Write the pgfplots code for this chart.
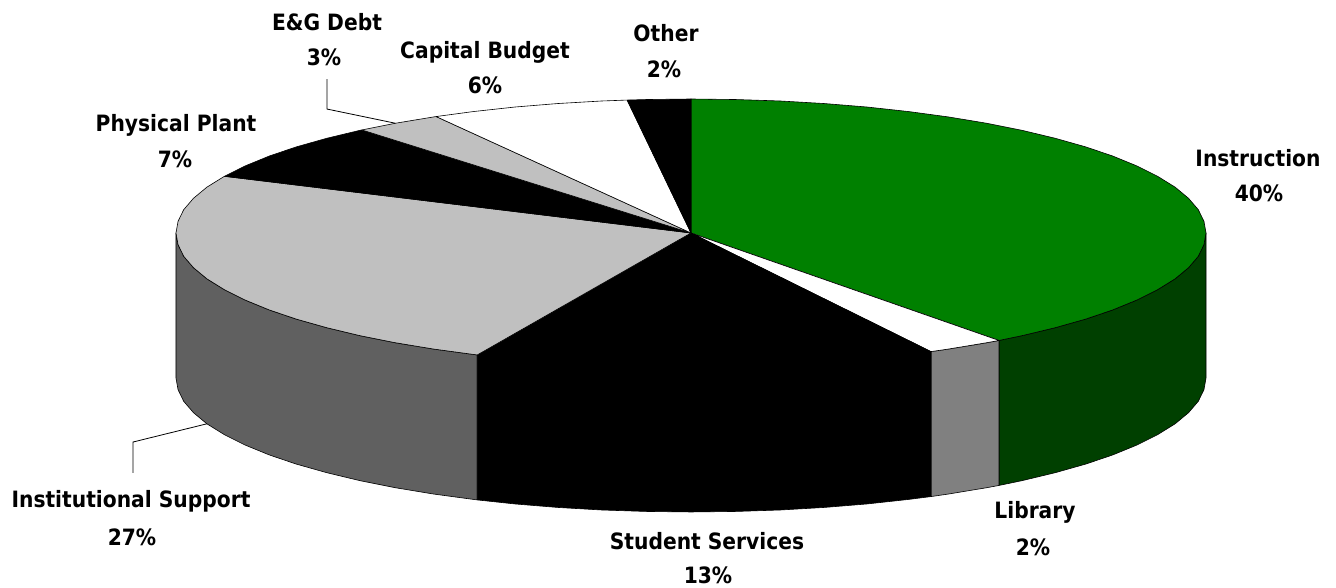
\documentclass[border=0pt]{standalone}
\usepackage{pgfplots}
\pgfplotsset{compat=1.18}
\usepackage{fontspec}
\setmainfont{DejaVu Sans}[FakeStretch=0.9]
\definecolor{instr}{RGB}{0,128,0}
\definecolor{instrside}{RGB}{0,64,0}
\definecolor{lgray}{RGB}{192,192,192}
\definecolor{dgray}{RGB}{96,96,96}
\definecolor{mgray}{RGB}{128,128,128}
\begin{document}
\begin{tikzpicture}
\useasboundingbox (0,0) rectangle (1336pt,-588pt);
\begin{axis}[at={(0,0)}, anchor=north west, width=1336pt, height=588pt,
  scale only axis, xmin=-1.3417, xmax=1.2524, ymin=-2.6493, ymax=1.7388,
  hide axis, clip=false]
% ---- side walls (front half) ----
\addplot[fill=instrside, draw=black, line width=0.6pt, line join=round] coordinates {
(1,0) (0.996,-0.087) (0.985,-0.174) (0.966,-0.259) (0.940,-0.342) (0.906,-0.423) (0.866,-0.500) (0.819,-0.574) (0.766,-0.643) (0.707,-0.707) (0.643,-0.766) (0.598,-0.802)
(0.598,-1.884) (0.643,-1.848) (0.707,-1.789) (0.766,-1.725) (0.819,-1.656) (0.866,-1.582) (0.906,-1.505) (0.940,-1.424) (0.966,-1.341) (0.985,-1.256) (0.996,-1.169) (1,-1.082)
} -- cycle;
\addplot[fill=mgray, draw=black, line width=0.6pt, line join=round] coordinates {
(0.598,-0.802) (0.574,-0.819) (0.500,-0.866) (0.466,-0.885)
(0.466,-1.967) (0.500,-1.948) (0.574,-1.901) (0.598,-1.884)
} -- cycle;
\addplot[fill=dgray, draw=black, line width=0.6pt, line join=round] coordinates {
(-0.415,-0.910) (-0.423,-0.906) (-0.500,-0.866) (-0.574,-0.819) (-0.643,-0.766) (-0.707,-0.707) (-0.766,-0.643) (-0.819,-0.574) (-0.866,-0.500) (-0.906,-0.423) (-0.940,-0.342) (-0.966,-0.259) (-0.985,-0.174) (-0.996,-0.087) (-1,0)
(-1,-1.082) (-0.996,-1.169) (-0.985,-1.256) (-0.966,-1.341) (-0.940,-1.424) (-0.906,-1.505) (-0.866,-1.582) (-0.819,-1.656) (-0.766,-1.725) (-0.707,-1.789) (-0.643,-1.848) (-0.574,-1.901) (-0.500,-1.948) (-0.423,-1.988) (-0.415,-1.992)
} -- cycle;
% ---- top faces ----
% Instruction 40%
\addplot[fill=instr, draw=black, line width=0.6pt, line join=round] coordinates {
(0,0) (0,1) (0.087,0.996) (0.174,0.985) (0.259,0.966) (0.342,0.940) (0.423,0.906) (0.500,0.866) (0.574,0.819) (0.643,0.766) (0.707,0.707) (0.766,0.643) (0.819,0.574) (0.866,0.500) (0.906,0.423) (0.940,0.342) (0.966,0.259) (0.985,0.174) (0.996,0.087) (1,0) (0.996,-0.087) (0.985,-0.174) (0.966,-0.259) (0.940,-0.342) (0.906,-0.423) (0.866,-0.500) (0.819,-0.574) (0.766,-0.643) (0.707,-0.707) (0.643,-0.766) (0.598,-0.802)
} -- cycle;
% Library 2%
\addplot[fill=white, draw=black, line width=0.6pt, line join=round] coordinates {
(0,0) (0.598,-0.802) (0.574,-0.819) (0.500,-0.866) (0.466,-0.885)
} -- cycle;
% Student Services 13% (top face and wall in one, both black)
\addplot[fill=black, draw=black, line width=0.6pt, line join=round] coordinates {
(0,0) (0.466,-0.885) (0.466,-1.967) (0.423,-1.988) (0.342,-2.022) (0.259,-2.048) (0.174,-2.067) (0.087,-2.078) (0,-2.082) (-0.087,-2.078) (-0.174,-2.067) (-0.259,-2.048) (-0.342,-2.022) (-0.415,-1.992) (-0.415,-0.910)
} -- cycle;
% Institutional Support 27%
\addplot[fill=lgray, draw=black, line width=0.6pt, line join=round] coordinates {
(0,0) (-0.415,-0.910) (-0.423,-0.906) (-0.500,-0.866) (-0.574,-0.819) (-0.643,-0.766) (-0.707,-0.707) (-0.766,-0.643) (-0.819,-0.574) (-0.866,-0.500) (-0.906,-0.423) (-0.940,-0.342) (-0.966,-0.259) (-0.985,-0.174) (-0.996,-0.087) (-1,0) (-0.996,0.087) (-0.985,0.174) (-0.966,0.259) (-0.940,0.342) (-0.906,0.423)
} -- cycle;
% Physical Plant 7%
\addplot[fill=black, draw=black, line width=0.6pt, line join=round] coordinates {
(0,0) (-0.906,0.423) (-0.866,0.500) (-0.819,0.574) (-0.766,0.643) (-0.707,0.707) (-0.643,0.766) (-0.639,0.769)
} -- cycle;
% E&G Debt 3%
\addplot[fill=lgray, draw=black, line width=0.6pt, line join=round] coordinates {
(0,0) (-0.639,0.769) (-0.574,0.819) (-0.500,0.866) (-0.495,0.869)
} -- cycle;
% Capital Budget 6%
\addplot[fill=white, draw=black, line width=0.6pt, line join=round] coordinates {
(0,0) (-0.495,0.869) (-0.423,0.906) (-0.342,0.940) (-0.259,0.966) (-0.174,0.985) (-0.124,0.992)
} -- cycle;
% Other 2%
\addplot[fill=black, draw=black, line width=0.6pt, line join=round] coordinates {
(0,0) (-0.124,0.992) (-0.087,0.996) (0,1)
} -- cycle;
% ---- leader lines ----
\addplot[draw=black, line width=0.8pt] coordinates {(-0.940,-1.424) (-1.0835,-1.560) (-1.0835,-1.791)};
\addplot[draw=black, line width=0.8pt] coordinates {(-0.574,0.819) (-0.7068,0.925) (-0.7068,1.149)};
\end{axis}
\begin{scope}[font=\fontsize{22.5}{27}\selectfont\bfseries]
\node[anchor=base, inner sep=0pt] at (1258pt,-167pt) {Instruction};
\node[anchor=base, inner sep=0pt] at (1259pt,-202pt) {40\%};
\node[anchor=base, inner sep=0pt] at (1035pt,-518pt) {Library};
\node[anchor=base, inner sep=0pt] at (1033pt,-555pt) {2\%};
\node[anchor=base, inner sep=0pt] at (707pt,-549pt) {Student Services};
\node[anchor=base, inner sep=0pt] at (708pt,-583pt) {13\%};
\node[anchor=base, inner sep=0pt] at (131pt,-507pt) {Institutional Support};
\node[anchor=base, inner sep=0pt] at (132pt,-545pt) {27\%};
\node[anchor=base, inner sep=0pt] at (176pt,-132pt) {Physical Plant};
\node[anchor=base, inner sep=0pt] at (175pt,-168pt) {7\%};
\node[anchor=base, inner sep=0pt] at (327pt,-31pt) {E\&G Debt};
\node[anchor=base, inner sep=0pt] at (324pt,-66pt) {3\%};
\node[anchor=base, inner sep=0pt] at (485pt,-59pt) {Capital Budget};
\node[anchor=base, inner sep=0pt] at (485pt,-94pt) {6\%};
\node[anchor=base, inner sep=0pt] at (666pt,-42pt) {Other};
\node[anchor=base, inner sep=0pt] at (664pt,-78pt) {2\%};
\end{scope}
\end{tikzpicture}
\end{document}
